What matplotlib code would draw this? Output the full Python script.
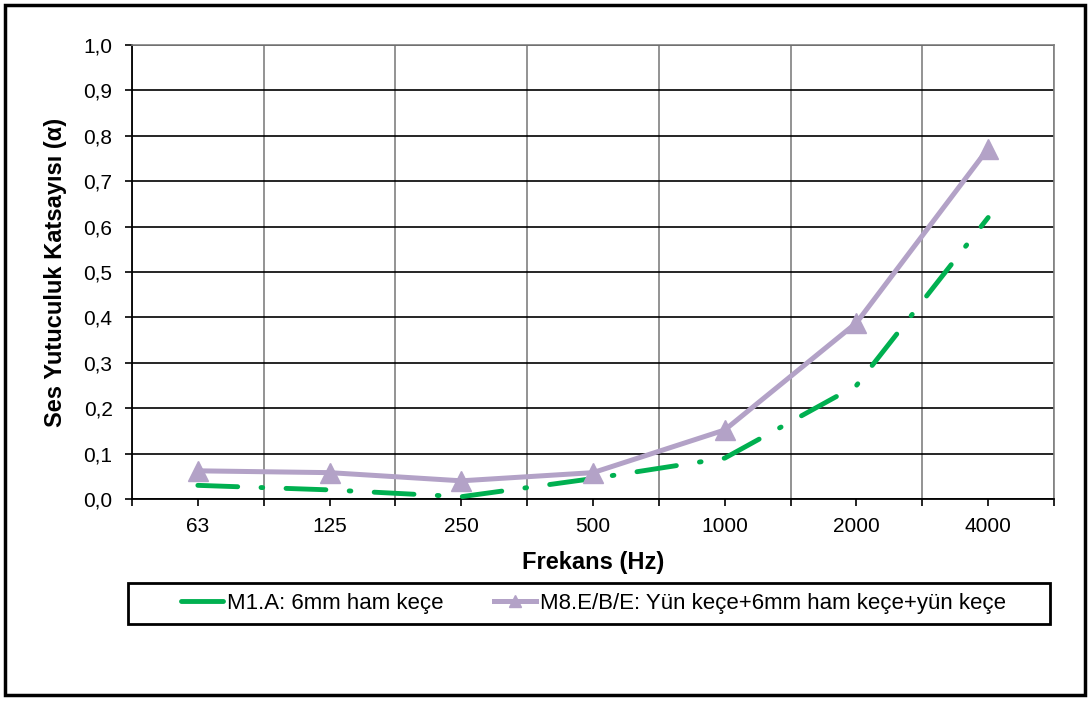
import matplotlib.pyplot as plt
import numpy as np
from matplotlib.patches import Rectangle

plt.rcParams['font.family'] = ['Liberation Sans', 'DejaVu Sans']

frekans = ['63', '125', '250', '500', '1000', '2000', '4000']
m1a = [0.03, 0.02, 0.005, 0.045, 0.09, 0.25, 0.62]
m8ebe = [0.062, 0.058, 0.04, 0.058, 0.152, 0.388, 0.772]

fig = plt.figure(figsize=(10.9, 7.01), dpi=100)
ax = fig.add_axes([0.1211, 0.2882, 0.8459, 0.6476])

x = np.arange(len(frekans))
# yeşil çizgi: uzun tire + nokta
ax.plot(x, m1a, color='#00B050', lw=3.5, dashes=(8.2, 4.8, 0.35, 4.8),
        dash_capstyle='round', solid_capstyle='round',
        label='M1.A: 6mm ham keçe', zorder=3)
ax.plot(x, m8ebe, color='#B3A2C7', lw=3.6, marker='^', ms=14.5,
        label='M8.E/B/E: Yün keçe+6mm ham keçe+yün keçe', zorder=4)

ax.set_xlim(-0.5, len(frekans) - 0.5)
ax.set_ylim(0, 1.0)
yt = np.arange(0, 1.01, 0.1)
ax.set_yticks(yt)
ax.set_yticklabels([f'{v:.1f}'.replace('.', ',') for v in yt])
ax.set_xticks(x)
ax.set_xticklabels(frekans)
ax.set_xticks(np.arange(-0.5, len(frekans)), minor=True)

ax.grid(axis='y', color='black', lw=1.2)
ax.grid(axis='x', which='minor', color='#808080', lw=1.2)
ax.tick_params(axis='both', which='both', direction='out', length=5,
               width=1.2, labelsize=15, color='black')
ax.tick_params(axis='y', pad=9)
ax.tick_params(axis='x', pad=8)
for s in ['left', 'bottom']:
    ax.spines[s].set_color('black')
    ax.spines[s].set_linewidth(1.3)
for s in ['top', 'right']:
    ax.spines[s].set_color('#808080')
    ax.spines[s].set_linewidth(1.2)
ax.set_axisbelow(True)

ax.set_ylabel('Ses Yutuculuk Katsayısı (α)', fontsize=17, fontweight='bold', labelpad=12)
ax.set_xlabel('Frekans (Hz)', fontsize=17, fontweight='bold', labelpad=11)

leg = fig.legend(loc='center', bbox_to_anchor=(0.5445, 0.139), ncol=2,
                 fontsize=16, frameon=False, handlelength=1.9,
                 handletextpad=0.2, columnspacing=2.25)
for h in leg.legend_handles:
    h.set_linestyle('-')
    h.set_markersize(9)

# legend kutusu
fig.patches.append(Rectangle((0.1174, 0.1098), 0.8459, 0.0585, transform=fig.transFigure,
                             fill=False, edgecolor='black', lw=2))
# dış çerçeve
fig.patches.append(Rectangle((0.005, 0.008), 0.99, 0.985, transform=fig.transFigure,
                             fill=False, edgecolor='black', lw=2.5))

fig.savefig('out.png', dpi=100)
